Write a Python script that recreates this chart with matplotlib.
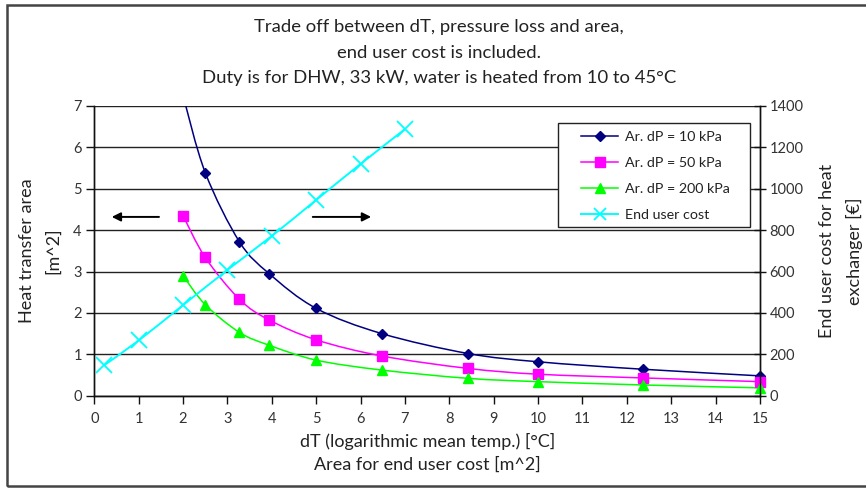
import matplotlib
matplotlib.use("Agg")
import matplotlib.pyplot as plt
from matplotlib.path import Path
from matplotlib.patches import PathPatch, Rectangle
from matplotlib.lines import Line2D
import numpy as np

plt.rcParams['font.family'] = ['Lato', 'DejaVu Sans']

# ---- data ----
dT = [2.0, 2.5, 3.27, 3.94, 5.0, 6.48, 8.42, 10.0, 12.36, 15.0]
area_10kpa = [7.25, 5.39, 3.72, 2.95, 2.11, 1.50, 1.02, 0.82, 0.64, 0.48]
area_50kpa = [4.35, 3.34, 2.33, 1.83, 1.35, 0.96, 0.66, 0.52, 0.43, 0.34]
area_200kpa = [2.90, 2.20, 1.53, 1.22, 0.86, 0.62, 0.42, 0.34, 0.26, 0.19]

cost_area = [0.22, 1.0, 2.0, 3.0, 4.0, 5.0, 6.0, 7.0]
cost_eur = [147, 267, 438, 608, 772, 946, 1120, 1288]

series_labels = ["Ar. dP = 10 kPa", "Ar. dP = 50 kPa", "Ar. dP = 200 kPa", "End user cost"]
title_lines = ["Trade off between dT, pressure loss and area,",
               "end user cost is included.",
               "Duty is for DHW, 33 kW, water is heated from 10 to 45°C"]
x_ticks = list(range(0, 16))
left_ticks = list(range(0, 8))
right_ticks = list(range(0, 1401, 200))


def smooth_path(x, y):
    """Smooth (Excel-like) curve through the points using cubic Bezier segments."""
    P = np.column_stack([x, y]).astype(float)
    n = len(P)
    verts = [P[0]]
    codes = [Path.MOVETO]
    for i in range(n - 1):
        p_prev = P[i - 1] if i > 0 else P[i]
        p_next2 = P[i + 2] if i + 2 < n else P[i + 1]
        c1 = P[i] + (P[i + 1] - p_prev) / 6.0
        c2 = P[i + 1] - (p_next2 - P[i]) / 6.0
        verts += [c1, c2, P[i + 1]]
        codes += [Path.CURVE4] * 3
    return Path(verts, codes)


fig = plt.figure(figsize=(8.66, 4.88), dpi=100)
ax = fig.add_axes([0.1089, 0.1891, 0.8776 - 0.1089, 0.7828 - 0.1891])
ax2 = ax.twinx()

# clip region slightly wider than the axes so edge markers are not cut
clip_rect = Rectangle((-0.03, -0.03), 1.06, 1.03, transform=ax.transAxes)

styles = [
    (area_10kpa, '#000080', 'D', 5.5),
    (area_50kpa, '#FF00FF', 's', 6.5),
    (area_200kpa, '#00FF00', '^', 7),
]
for vals, col, mk, ms in styles:
    ax.add_patch(PathPatch(smooth_path(dT, vals), fill=False, edgecolor=col, lw=1.1,
                           transform=ax.transData, zorder=3))
    mline, = ax.plot(dT, vals, ls='none', marker=mk, color=col, ms=ms, zorder=4)
    mline.set_clip_path(clip_rect)

ax2.add_patch(PathPatch(smooth_path(cost_area, cost_eur), fill=False, edgecolor='#00FFFF',
                        lw=1.4, transform=ax2.transData, zorder=3))
ax2.plot(cost_area, cost_eur, ls='none', marker='x', color='#00FFFF', ms=11, mew=1.3, zorder=4)

ax.set_xlim(0, 15)
ax.set_ylim(0, 7)
ax2.set_ylim(0, 1400)
ax.set_xticks(x_ticks)
ax.set_yticks(left_ticks)
ax2.set_yticks(right_ticks)

for a in (ax, ax2):
    a.spines['top'].set_visible(False)
    for s in a.spines.values():
        s.set_color('#111111')
        s.set_linewidth(1.0)

ax.yaxis.grid(True, color='#222222', lw=1.0)
ax.set_axisbelow(True)
ax.tick_params(axis='both', labelsize=10.5, length=6, width=1.0, color='#111111', pad=3,
               labelcolor='#333333')
ax.tick_params(axis='x', pad=6)
ax2.tick_params(axis='y', labelsize=10.5, length=8, width=1.0, color='#111111', pad=3,
                labelcolor='#333333', direction='inout')

ax.set_xlabel("dT (logarithmic mean temp.) [°C]\nArea for end user cost [m^2]",
              fontsize=13, color='#222222', linespacing=1.5, labelpad=5)
ax.set_ylabel("Heat transfer area\n[m^2]", fontsize=13, color='#222222', linespacing=1.7,
              labelpad=9)
ax2.set_ylabel("End user cost for heat\nexchanger [€]", fontsize=13, color='#222222',
               linespacing=1.8, labelpad=11)

for i, t in enumerate(title_lines):
    fig.text(0.507, 1 - (27 + 25.5 * i) / 488, t, ha='center', va='center', fontsize=13.3,
             color='#222222')

# arrows
ax.annotate('', xy=(0.33, 4.32), xytext=(1.52, 4.32),
            arrowprops=dict(arrowstyle='-|>', color='black', lw=1.4, mutation_scale=13))
ax.annotate('', xy=(6.3, 4.32), xytext=(4.86, 4.32),
            arrowprops=dict(arrowstyle='-|>', color='black', lw=1.4, mutation_scale=13))

handles = [
    Line2D([], [], color='#000080', marker='D', ms=5.5, lw=1.1),
    Line2D([], [], color='#FF00FF', marker='s', ms=6.5, lw=1.1),
    Line2D([], [], color='#00FF00', marker='^', ms=7, lw=1.1),
    Line2D([], [], color='#00FFFF', marker='x', ms=8, mew=1.3, lw=1.4),
]
# legend box (axes fraction) and entries
box_l, box_r = (558 - 94.3) / 665.7, (750 - 94.3) / 665.7
box_t, box_b = (395.7 - 123) / 289.7, (395.7 - 227) / 289.7
ax2.add_patch(Rectangle((box_l, box_b), box_r - box_l, box_t - box_b, transform=ax2.transAxes,
                        facecolor='white', edgecolor='#222222', lw=1.0, zorder=9))
leg = ax2.legend(handles, series_labels, loc='upper left',
                 bbox_to_anchor=((581 - 94.3) / 665.7, (395.7 - 130.5) / 289.7),
                 frameon=False, fontsize=10.3, handlelength=2.6, handletextpad=0.45,
                 borderpad=0, labelspacing=0.98, borderaxespad=0)
leg.set_zorder(10)
for t in leg.get_texts():
    t.set_color('#222222')

# figure border
fig.patches.append(Rectangle((7 / 866, 2 / 488), 1.0, 481 / 488, transform=fig.transFigure,
                             fill=False, edgecolor='#444444', lw=1.8))

fig.savefig('out.png', dpi=100)
